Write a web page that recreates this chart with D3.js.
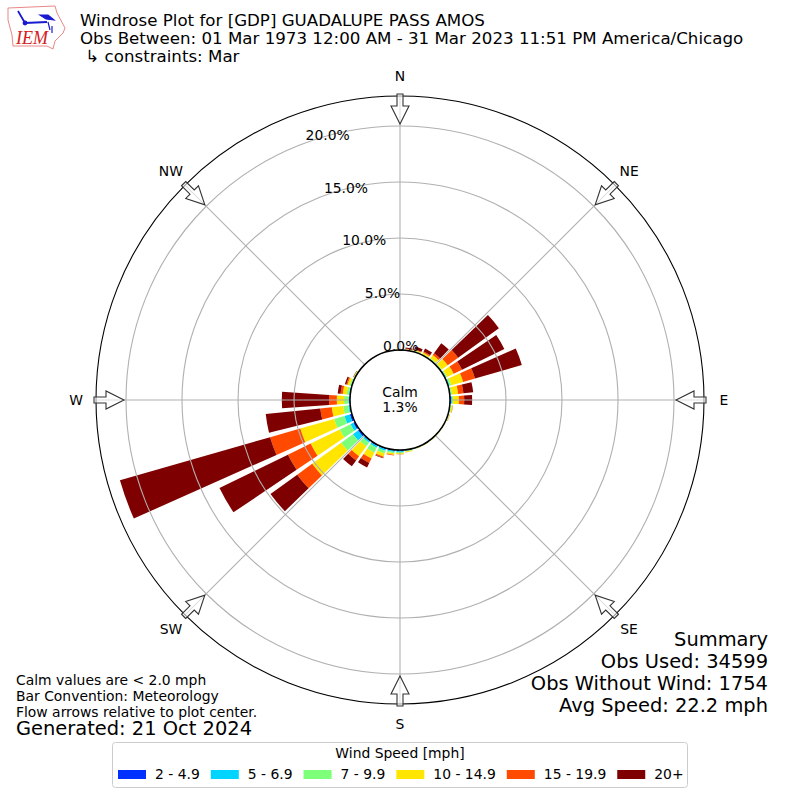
<!DOCTYPE html>
<meta charset="utf-8">
<style>
html, body { margin: 0; padding: 0; background: #fff; }
text { font-family: "DejaVu Sans", sans-serif; fill: #000; white-space: pre; }
</style>
<body>
<div id="chart"></div>
<script src="https://d3js.org/d3.v7.min.js"></script>
<script>
// direction each bar points to, degrees from north
var directions = [10, 20, 30, 40, 50, 60, 70, 80, 90, 100, 110, 120, 130, 140, 150, 160, 170, 180,
                  190, 200, 210, 220, 230, 240, 250, 260, 270, 280, 290, 300, 310, 320, 330, 340, 350, 360];

// percent of observations in each speed bin, one value per direction
var speed2 = [.02, .02, .02, .03, .03, .05, .05, .05, .1, .03, .03, .02, .02, .02, .02, .03, .05, .08,
              .08, .1, .1, .1, .18, .18, .2, .08, .07, .06, .05, .03, .01, .01, .01, .01, .01, .01];
var speed5 = [.02, .03, .03, .05, .05, .07, .1, .05, .08, .05, .04, .02, .02, .02, .03, .03, .05, .1,
              .12, .15, .17, .15, .55, .27, .5, .1, .08, .06, .05, .03, .01, .01, .01, .01, .01, .02];
var speed7 = [.03, .05, .05, .07, .07, .1, .15, .1, .1, .08, .05, .03, .03, .03, .03, .03, .05, .1,
              .12, .25, .5, .4, 1.3, 1.07, .95, .45, .38, .2, .12, .05, .01, .01, .01, .01, .01, .02];
var speed10 = [.05, .1, .15, .35, .65, .65, 1.1, .55, .52, .1, .05, .02, .02, .02, .02, .03, .07, .1,
               .15, .3, .57, 1.1, 3.2, 2.9, 3.15, 1.03, .65, .35, .2, .05, .01, .01, .01, .02, .02, .03];
var speed15 = [.03, .05, .1, .2, 1.15, .83, 1.1, .48, .47, .03, .02, 0, 0, 0, 0, 0, .02, .02,
               .05, .1, .45, .45, 1.65, 2.25, 2.8, 1.03, .69, .2, .1, .02, 0, 0, 0, 0, .01, .01];
var speed20 = [.1, .25, .3, 1.1, 4.5, 4.2, 4.35, .88, .71, 0, 0, 0, 0, 0, 0, 0, 0, 0,
               0, .05, .45, .65, 2.95, 6.8, 13.95, 4.9, 4.22, .26, .14, .02, 0, 0, 0, 0, 0, .01];

var speedBins = [speed2, speed5, speed7, speed10, speed15, speed20];
var speedLabels = ["2 - 4.9", "5 - 6.9", "7 - 9.9", "10 - 14.9", "15 - 19.9", "20+"];
var speedColors = ["#0030ff", "#00d4ff", "#7dff7a", "#ffe500", "#ff4a00", "#7f0000"];

var ringTicks = [0, 5, 10, 15, 20];
var gridAngles = [0, 45, 90, 135, 180, 225, 270, 315];
var compass = ["N", "NE", "E", "SE", "S", "SW", "W", "NW"];

var titleLines = ["Windrose Plot for [GDP] GUADALUPE PASS AMOS",
                  "Obs Between: 01 Mar 1973 12:00 AM - 31 Mar 2023 11:51 PM America/Chicago",
                  " \u21b3 constraints: Mar"];
var summaryLines = ["Summary", "Obs Used: 34599", "Obs Without Wind: 1754", "Avg Speed: 22.2 mph"];
var noteLines = ["Calm values are < 2.0 mph", "Bar Convention: Meteorology", "Flow arrows relative to plot center."];

var width = 800, height = 800, cx = 400, cy = 400, outer = 304;
var smallFont = 13.9, titleFont = 16.67, bigFont = 19.45;

var svg = d3.select("#chart").append("svg")
    .attr("width", width)
    .attr("height", height)
    .style("display", "block");

var rScale = d3.scaleLinear().domain([0, 20]).range([50, 274]);
var rad = d3.scaleLinear().domain([0, 360]).range([0, 2 * Math.PI]);

var plot = svg.append("g").attr("transform", "translate(" + cx + "," + cy + ")");

/* stacked bars */
var rows = directions.map(function(d, i) {
  var row = {dir: d};
  speedBins.forEach(function(b, j) { row[j] = b[i]; });
  return row;
});
var series = d3.stack().keys(d3.range(speedBins.length))(rows);
var arc = d3.arc()
    .innerRadius(function(d) { return rScale(d[0]); })
    .outerRadius(function(d) { return rScale(d[1]); })
    .startAngle(function(d) { return rad(d.data.dir - 4); })
    .endAngle(function(d) { return rad(d.data.dir + 4); });

plot.selectAll(".bin")
    .data(series)
    .enter().append("g")
    .attr("class", "bin")
    .attr("fill", function(s, i) { return speedColors[i]; })
    .selectAll("path")
    .data(function(s) { return s; })
    .enter().append("path")
    .attr("d", arc);

/* grid */
plot.selectAll(".ring")
    .data(ringTicks.slice(1))
    .enter().append("circle")
    .attr("r", function(d) { return rScale(d); })
    .attr("fill", "none")
    .attr("stroke", "#b0b0b0")
    .attr("stroke-width", 1.1);

plot.selectAll(".spoke")
    .data(gridAngles)
    .enter().append("line")
    .attr("x1", function(d) { return rScale(0) * Math.sin(rad(d)); })
    .attr("y1", function(d) { return -rScale(0) * Math.cos(rad(d)); })
    .attr("x2", function(d) { return outer * Math.sin(rad(d)); })
    .attr("y2", function(d) { return -outer * Math.cos(rad(d)); })
    .attr("stroke", "#b0b0b0")
    .attr("stroke-width", 1.1);

plot.append("circle").attr("r", outer).attr("fill", "none").attr("stroke", "#000").attr("stroke-width", 1.1);
plot.append("circle").attr("r", rScale(0)).attr("fill", "#fff").attr("stroke", "#000").attr("stroke-width", 1.5);

/* ring labels */
plot.selectAll(".ringlabel")
    .data(ringTicks)
    .enter().append("text")
    .attr("x", function(d) { return 17 - 0.326 * rScale(d); })
    .attr("y", function(d) { return -7 - 0.942 * rScale(d); })
    .attr("dy", "0.36em")
    .attr("text-anchor", "middle")
    .attr("font-size", smallFont)
    .text(function(d) { return d.toFixed(1) + "%"; });

/* flow arrows, drawn pointing up and rotated round the centre */
var arrowShape = [[-3, -306], [3, -306], [3, -294], [9, -294], [0, -276], [-9, -294], [-3, -294]];
plot.selectAll(".arrow")
    .data(gridAngles)
    .enter().append("path")
    .attr("d", d3.line()(arrowShape) + "Z")
    .attr("transform", function(d) { return "rotate(" + d + ")"; })
    .attr("fill", "#fff")
    .attr("fill-opacity", 0.6)
    .attr("stroke", "#333")
    .attr("stroke-width", 1.1);

plot.selectAll(".compass")
    .data(compass)
    .enter().append("text")
    .attr("x", function(d, i) { return 324 * Math.sin(rad(gridAngles[i])); })
    .attr("y", function(d, i) { return -324 * Math.cos(rad(gridAngles[i])); })
    .attr("dy", "0.36em")
    .attr("text-anchor", "middle")
    .attr("font-size", smallFont)
    .text(function(d) { return d; });

plot.append("text").attr("y", -8).attr("dy", "0.36em").attr("text-anchor", "middle").attr("font-size", smallFont).text("Calm");
plot.append("text").attr("y", 7).attr("dy", "0.36em").attr("text-anchor", "middle").attr("font-size", smallFont).text("1.3%");

/* header */
svg.selectAll(".title")
    .data(titleLines)
    .enter().append("text")
    .attr("x", 80)
    .attr("y", function(d, i) { return 26 + i * 18; })
    .attr("font-size", titleFont)
    .text(function(d) { return d; });

/* IEM logo */
var logo = svg.append("g");
logo.append("path")
    .attr("d", "M8,8 L55,6 L57,13 L65,28 L63,33 L55,41 L53,49 L47,46 L13,46 L12,35 L8,20 Z")
    .attr("fill", "#fff")
    .attr("stroke", "#e88888")
    .attr("stroke-width", 1);
logo.append("path")
    .attr("d", "M18,11 L25,23 M25,23 L47,22")
    .attr("fill", "none")
    .attr("stroke", "#1a1ad0")
    .attr("stroke-width", 1.8);
logo.append("path")
    .attr("d", "M40,15 L48,15 L54,20 L46,19 Z M48,22 L50,30 M52,26 L52,33")
    .attr("fill", "#1a1ad0")
    .attr("stroke", "#1a1ad0")
    .attr("stroke-width", 1.2);
logo.append("circle").attr("cx", 25).attr("cy", 23).attr("r", 2.4).attr("fill", "#1a1ad0");
logo.append("text")
    .attr("x", 16).attr("y", 44)
    .attr("font-size", 18)
    .style("font-family", "'Liberation Serif', serif")
    .style("font-style", "italic")
    .style("fill", "#d42020")
    .text("IEM");

/* summary, lower right */
svg.selectAll(".summary")
    .data(summaryLines)
    .enter().append("text")
    .attr("x", 768)
    .attr("y", function(d, i) { return 646 + i * 22; })
    .attr("text-anchor", "end")
    .attr("font-size", bigFont)
    .text(function(d) { return d; });

/* notes, lower left */
svg.selectAll(".note")
    .data(noteLines)
    .enter().append("text")
    .attr("x", 16)
    .attr("y", function(d, i) { return 685 + i * 16; })
    .attr("font-size", smallFont)
    .text(function(d) { return d; });
svg.append("text").attr("x", 16).attr("y", 735).attr("font-size", bigFont).text("Generated: 21 Oct 2024");

/* legend */
var legend = svg.append("g");
legend.append("rect")
    .attr("x", 112.5).attr("y", 742.5)
    .attr("width", 575).attr("height", 45)
    .attr("rx", 3)
    .attr("fill", "#fff")
    .attr("stroke", "#ccc");
legend.append("text")
    .attr("x", 400).attr("y", 758)
    .attr("text-anchor", "middle")
    .attr("font-size", smallFont)
    .text("Wind Speed [mph]");

var cursor = 118;
speedLabels.forEach(function(label, i) {
  legend.append("rect")
      .attr("x", cursor).attr("y", 770)
      .attr("width", 28).attr("height", 9)
      .attr("fill", speedColors[i]);
  var t = legend.append("text")
      .attr("x", cursor + 37).attr("y", 779)
      .attr("font-size", smallFont)
      .text(label);
  cursor += 37 + t.node().getComputedTextLength() + 11;
});
</script>
</body>
